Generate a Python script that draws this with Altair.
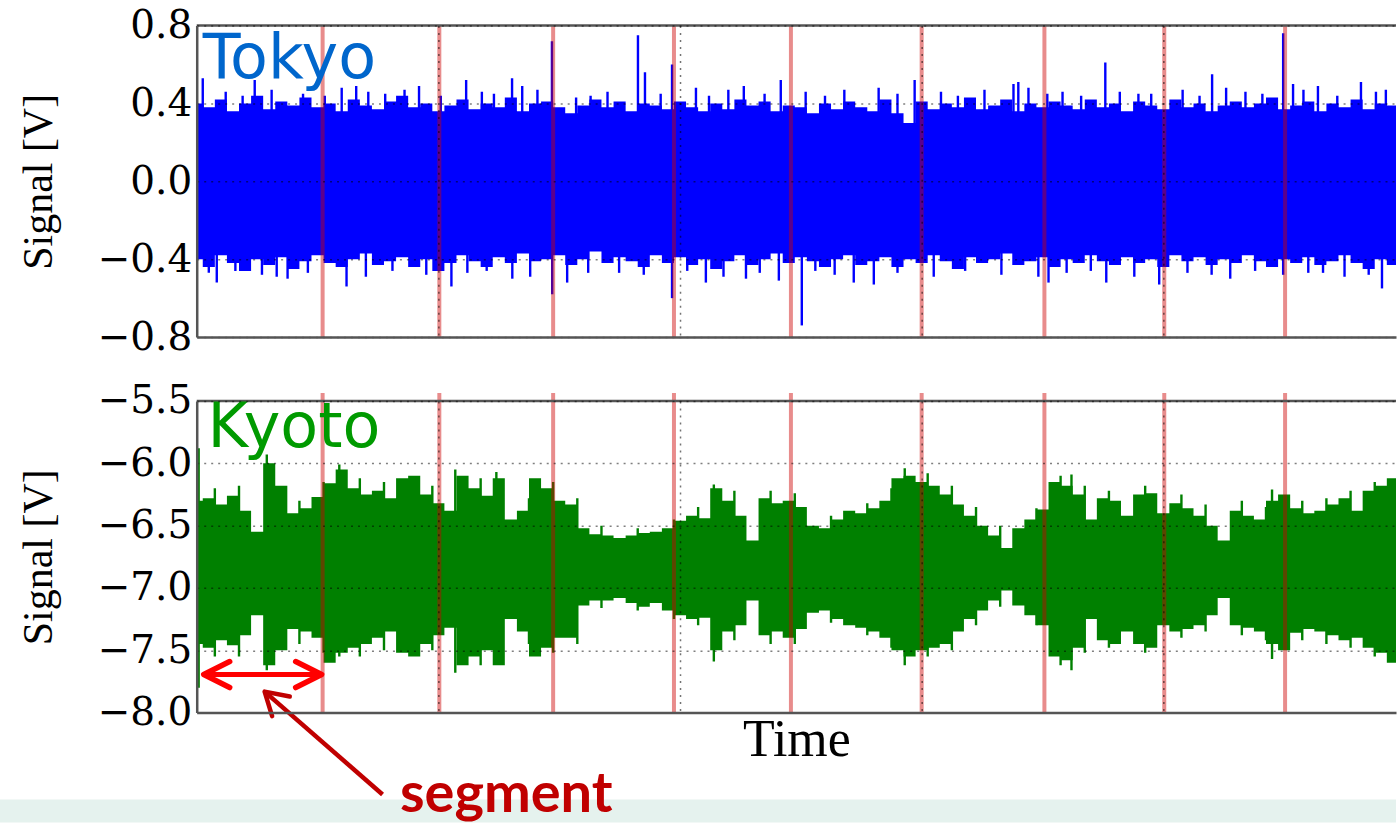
import altair as alt
import pandas as pd

# ---------------- data ----------------
# sample grid along the time axis (gridlines at 1, 2, 3, 4)
t_samples = [round(0.05 * i, 2) for i in range(101)]

tokyo_upper = [
    0.40, 0.38, 0.42, 0.36, 0.40, 0.44, 0.37, 0.41, 0.39, 0.43,
    0.38, 0.40, 0.36, 0.42, 0.39, 0.37, 0.41, 0.44, 0.38, 0.40,
    0.36, 0.39, 0.42, 0.37, 0.40, 0.38, 0.43, 0.36, 0.40, 0.41,
    0.38, 0.35, 0.39, 0.42, 0.38, 0.41, 0.36, 0.40, 0.39, 0.37,
    0.41, 0.38, 0.36, 0.40, 0.37, 0.42, 0.39, 0.41, 0.36, 0.39,
    0.38, 0.35, 0.40, 0.37, 0.41, 0.38, 0.36, 0.42, 0.35, 0.30,
    0.41, 0.37, 0.40, 0.38, 0.43, 0.37, 0.39, 0.42, 0.36, 0.40,
    0.38, 0.41, 0.39, 0.37, 0.42, 0.38, 0.40, 0.36, 0.41, 0.39,
    0.37, 0.42, 0.38, 0.40, 0.36, 0.39, 0.41, 0.38, 0.40, 0.43,
    0.37, 0.39, 0.41, 0.36, 0.40, 0.38, 0.42, 0.37, 0.40, 0.39,
    0.39,
]
tokyo_lower = [
    -0.40, -0.44, -0.38, -0.42, -0.46, -0.40, -0.43, -0.39, -0.45, -0.41,
    -0.38, -0.42, -0.44, -0.40, -0.37, -0.43, -0.41, -0.39, -0.44, -0.40,
    -0.46, -0.42, -0.38, -0.41, -0.44, -0.39, -0.42, -0.37, -0.41, -0.40,
    -0.38, -0.43, -0.40, -0.36, -0.42, -0.39, -0.41, -0.44, -0.38, -0.42,
    -0.39, -0.43, -0.40, -0.45, -0.41, -0.38, -0.43, -0.40, -0.37, -0.42,
    -0.39, -0.41, -0.44, -0.40, -0.38, -0.43, -0.41, -0.39, -0.44, -0.40,
    -0.42, -0.38, -0.41, -0.45, -0.39, -0.42, -0.40, -0.37, -0.43, -0.41,
    -0.39, -0.44, -0.40, -0.42, -0.38, -0.41, -0.43, -0.39, -0.42, -0.40,
    -0.44, -0.38, -0.41, -0.39, -0.43, -0.40, -0.42, -0.38, -0.41, -0.44,
    -0.40, -0.42, -0.39, -0.43, -0.41, -0.38, -0.42, -0.45, -0.40, -0.43,
    -0.41,
]
# isolated thin spikes of the Tokyo trace (time, peak value)
tokyo_spike_t = [
    # tall upward spikes
    0.025, 0.24, 0.60, 0.66, 0.92, 1.115, 1.305, 1.347, 1.47, 1.57,
    1.826, 1.855, 1.967, 2.066, 2.264, 2.417, 2.822, 2.971, 3.38, 3.40,
    3.442, 3.583, 3.76, 3.897, 4.202, 4.26, 4.496, 4.537, 4.64, 4.818, 4.921,
    # tall downward spikes
    0.083, 0.331, 0.376, 0.62, 1.054, 1.306, 1.471, 1.533, 1.748, 1.967,
    2.107, 2.273, 2.409, 2.504, 2.719, 2.802, 3.483, 3.525, 3.764, 3.983,
    4.277, 4.496, 4.661, 4.905,
    # smaller upward spikes
    0.12, 0.19, 0.31, 0.44, 0.53, 0.71, 0.78, 0.86, 1.01, 1.18,
    1.23, 1.41, 1.63, 1.70, 1.92, 2.12, 2.20, 2.35, 2.52, 2.60,
    2.68, 2.90, 3.08, 3.15, 3.26, 3.52, 3.66, 3.82, 3.95, 4.08,
    4.15, 4.34, 4.41, 4.58, 4.72, 4.88,
    # smaller downward spikes
    0.05, 0.16, 0.27, 0.46, 0.70, 0.81, 0.95, 1.12, 1.20, 1.38,
    1.62, 1.85, 2.03, 2.18, 2.33, 2.56, 2.64, 2.90, 3.05, 3.18,
    3.33, 3.60, 3.70, 3.88, 4.10, 4.20, 4.38, 4.60, 4.75, 4.85,
]
tokyo_spike_v = [
    0.53, 0.52, 0.48, 0.49, 0.49, 0.52, 0.53, 0.49, 0.72, 0.43,
    0.75, 0.56, 0.60, 0.48, 0.49, 0.52, 0.48, 0.52, 0.50, 0.51,
    0.48, 0.46, 0.61, 0.45, 0.55, 0.48, 0.76, 0.50, 0.49, 0.51, 0.47,
    -0.52, -0.49, -0.50, -0.54, -0.54, -0.50, -0.58, -0.52, -0.47, -0.60,
    -0.52, -0.50, -0.51, -0.74, -0.52, -0.53, -0.49, -0.52, -0.52, -0.53,
    -0.50, -0.48, -0.47, -0.55,
    0.46, 0.44, 0.47, 0.45, 0.44, 0.46, 0.45, 0.47, 0.44, 0.46,
    0.45, 0.47, 0.44, 0.46, 0.45, 0.44, 0.47, 0.45, 0.46, 0.44,
    0.47, 0.45, 0.46, 0.44, 0.47, 0.45, 0.44, 0.46, 0.45, 0.47,
    0.44, 0.46, 0.45, 0.47, 0.44, 0.46,
    -0.47, -0.46, -0.48, -0.47, -0.49, -0.46, -0.48, -0.47, -0.46, -0.49,
    -0.47, -0.48, -0.46, -0.49, -0.47, -0.46, -0.48, -0.47, -0.49, -0.46,
    -0.48, -0.47, -0.46, -0.49, -0.47, -0.48, -0.46, -0.47, -0.49, -0.48,
]

kyoto_upper = [
    -6.30, -6.28, -6.33, -6.26, -6.38, -6.55, -6.00, -6.18, -6.40, -6.36,
    -6.27, -6.16, -6.05, -6.20, -6.25, -6.22, -6.28, -6.12, -6.10, -6.25,
    -6.32, -6.38, -6.10, -6.20, -6.26, -6.12, -6.45, -6.38, -6.12, -6.20,
    -6.30, -6.33, -6.52, -6.57, -6.58, -6.60, -6.58, -6.56, -6.55, -6.52,
    -6.46, -6.42, -6.44, -6.20, -6.30, -6.42, -6.62, -6.28, -6.32, -6.30,
    -6.35, -6.50, -6.52, -6.45, -6.38, -6.40, -6.36, -6.30, -6.12, -6.10,
    -6.15, -6.18, -6.25, -6.33, -6.42, -6.50, -6.58, -6.68, -6.52, -6.45,
    -6.37, -6.15, -6.18, -6.25, -6.45, -6.28, -6.30, -6.42, -6.25, -6.24,
    -6.40, -6.32, -6.36, -6.42, -6.50, -6.62, -6.38, -6.42, -6.45, -6.30,
    -6.25, -6.36, -6.40, -6.38, -6.33, -6.28, -6.38, -6.22, -6.18, -6.12,
    -6.12,
]
kyoto_lower = [
    -7.45, -7.48, -7.42, -7.46, -7.38, -7.22, -7.62, -7.50, -7.33, -7.35,
    -7.40, -7.60, -7.52, -7.48, -7.45, -7.40, -7.35, -7.52, -7.55, -7.45,
    -7.38, -7.32, -7.62, -7.55, -7.50, -7.62, -7.25, -7.35, -7.55, -7.48,
    -7.40, -7.40, -7.14, -7.10, -7.10, -7.08, -7.12, -7.15, -7.12, -7.18,
    -7.22, -7.25, -7.24, -7.50, -7.35, -7.30, -7.10, -7.38, -7.35, -7.40,
    -7.33, -7.20, -7.18, -7.25, -7.30, -7.32, -7.35, -7.40, -7.50, -7.55,
    -7.50, -7.48, -7.45, -7.35, -7.25, -7.18, -7.10, -7.02, -7.14, -7.22,
    -7.30, -7.55, -7.58, -7.48, -7.25, -7.42, -7.45, -7.35, -7.45, -7.48,
    -7.30, -7.35, -7.33, -7.30, -7.22, -7.08, -7.30, -7.32, -7.35, -7.45,
    -7.50, -7.36, -7.33, -7.35, -7.38, -7.42, -7.40, -7.48, -7.52, -7.60,
    -7.60,
]
# thin excursions of the Kyoto trace (time, top, bottom)
kyoto_spike_t = [
    0.008, 0.29, 0.59, 1.07, 1.24, 2.14, 2.93, 3.62, 4.45,
    0.075, 0.175, 0.425, 0.525, 0.675, 0.775, 0.975, 1.175, 1.375, 1.475,
    1.575, 1.675, 1.825, 1.975, 2.075, 2.225, 2.375, 2.475, 2.625, 2.775,
    2.875, 3.025, 3.125, 3.225, 3.325, 3.475, 3.575, 3.675, 3.775, 3.925,
    4.075, 4.175, 4.325, 4.425, 4.575, 4.675, 4.775, 4.875,
]
kyoto_spike_hi = [
    -5.88, -5.93, -6.01, -6.05, -6.07, -6.17, -6.04, -6.09, -6.21,
    -6.20, -6.18, -6.30, -6.15, -6.12, -6.15, -6.18, -6.12, -6.28, -6.15,
    -6.28, -6.50, -6.52, -6.45, -6.35, -6.22, -6.22, -6.24, -6.42, -6.32,
    -6.20, -6.08, -6.18, -6.35, -6.50, -6.36, -6.10, -6.18, -6.22, -6.18,
    -6.25, -6.33, -6.30, -6.35, -6.30, -6.28, -6.22, -6.15,
]
kyoto_spike_lo = [
    -7.80, -7.66, -7.55, -7.68, -7.60, -7.59, -7.62, -7.66, -7.57,
    -7.55, -7.55, -7.45, -7.52, -7.55, -7.50, -7.50, -7.62, -7.45, -7.52,
    -7.45, -7.16, -7.18, -7.25, -7.30, -7.42, -7.45, -7.45, -7.28, -7.38,
    -7.48, -7.55, -7.50, -7.30, -7.15, -7.30, -7.62, -7.52, -7.48, -7.52,
    -7.40, -7.35, -7.38, -7.42, -7.42, -7.45, -7.48, -7.55,
]

segment_bounds = [0.521, 1.004, 1.475, 1.975, 2.459, 3.0, 3.508, 4.004, 4.504]
grid_times = [1, 2, 3, 4]
tokyo_ticks = [-0.8, -0.4, 0.0, 0.4, 0.8]
kyoto_ticks = [-8.0, -7.5, -7.0, -6.5, -6.0, -5.5]

# ---------------- layout / style ----------------
W, H = 1201, 312
X_DOM = [0, 4.963]
BORDER = "#555555"


def X(field, title):
    return alt.X(
        f"{field}:Q",
        scale=alt.Scale(domain=X_DOM, nice=False, zero=False),
        axis=alt.Axis(
            values=grid_times, labels=False, ticks=False, title=title,
            titleFont="Liberation Serif", titleFontSize=52, titleFontWeight="normal",
            titleColor="black", titlePadding=2,
            domainColor=BORDER, domainWidth=2.5,
            grid=True, gridDash=[2, 5], gridColor="#000000", gridOpacity=0.55, gridWidth=1.5,
            zindex=1,
        ),
    )


def Y(field, domain, ticks):
    return alt.Y(
        f"{field}:Q",
        scale=alt.Scale(domain=domain, nice=False, zero=False),
        axis=alt.Axis(
            values=ticks, format=".1f", ticks=False,
            labelFont="DejaVu Serif", labelFontSize=39, labelColor="black", labelPadding=5,
            title="Signal [V]", titleFont="Liberation Serif", titleFontSize=42,
            titleFontWeight="normal", titleColor="black",
            titleX=-136, titleY=H / 2, titleAngle=270, titleBaseline="bottom", titleAlign="center",
            domainColor=BORDER, domainWidth=2.5,
            grid=True, gridDash=[2, 5], gridColor="#000000", gridOpacity=0.5, gridWidth=1.5,
            zindex=1,
        ),
    )


one = pd.DataFrame({"a": [0]})


def panel(t, up, lo, sp_t, sp_hi, sp_lo, color, domain, ticks, xtitle, name, name_color,
          name_pos, seg_lo, seg_hi, extra):
    env = pd.DataFrame({"t": t, "hi": up, "lo": lo})
    spikes = pd.DataFrame({"t": sp_t, "hi": sp_hi, "lo": sp_lo})
    segs = pd.DataFrame({"t": segment_bounds, "lo": seg_lo, "hi": seg_hi})
    lab = pd.DataFrame({"t": [name_pos[0]], "hi": [name_pos[1]], "label": [name]})

    area = alt.Chart(env).mark_area(color=color, interpolate="step", clip=True, opacity=1).encode(
        x=X("t", xtitle), y=Y("hi", domain, ticks), y2="lo:Q")
    sp = alt.Chart(spikes).mark_rule(color=color, strokeWidth=2.4, clip=True).encode(
        x=X("t", xtitle), y=Y("hi", domain, ticks), y2="lo:Q")
    red = alt.Chart(segs).mark_rule(color="#CC0000", opacity=0.45, strokeWidth=4).encode(
        x=X("t", xtitle), y=Y("lo", domain, ticks), y2="hi:Q")
    top_border = alt.Chart(one).mark_rule(color=BORDER, strokeWidth=2.5).encode(
        x=alt.value(0), x2=alt.value(W), y=alt.value(0))
    label = alt.Chart(lab).mark_text(font="DejaVu Sans", fontSize=62, color=name_color,
                                     align="left", baseline="alphabetic").encode(
        x=X("t", xtitle), y=Y("hi", domain, ticks), text="label:N")
    layers = extra[0] + [area, sp, red, top_border, label] + extra[1]
    return alt.layer(*layers).properties(width=W, height=H)


# Tokyo panel
top = panel(t_samples, tokyo_upper, tokyo_lower,
            tokyo_spike_t, tokyo_spike_v, [0.0] * len(tokyo_spike_t),
            "#0000FF", [-0.8, 0.8], tokyo_ticks, None, "Tokyo", "#0066CC", (0.025, 0.533),
            [-0.8] * len(segment_bounds), [0.8] * len(segment_bounds), ([], []))

# Kyoto panel annotations
KD, KT = [-8.0, -5.5], kyoto_ticks
strip = alt.Chart(one).mark_rect(color="#E5F2EE").encode(
    x=alt.value(-197), x2=alt.value(W), y=alt.value(399), y2=alt.value(422))

seg_arrow = pd.DataFrame({"t": [0.029], "t2": [0.517], "hi": [-7.695]})
arrow_line = alt.Chart(seg_arrow).mark_rule(color="#FF0000", strokeWidth=5).encode(
    x=X("t", "Time"), x2="t2:Q", y=Y("hi", KD, KT))
left_head = alt.Chart(seg_arrow).mark_point(
    shape="M 1 -0.5 L 0 0 L 1 0.5", filled=False, size=2704, strokeWidth=5.5,
    color="#FF0000", opacity=1, strokeCap="round", strokeJoin="round").encode(
    x=X("t", "Time"), y=Y("hi", KD, KT))
right_head = alt.Chart(seg_arrow).mark_point(
    shape="M -1 -0.5 L 0 0 L -1 0.5", filled=False, size=2704, strokeWidth=5.5,
    color="#FF0000", opacity=1, strokeCap="round", strokeJoin="round").encode(
    x=X("t2", "Time"), y=Y("hi", KD, KT))

pointer = pd.DataFrame({"t": [0.281], "hi": [-7.832], "t2": [0.769], "lo": [-8.657]})
pointer_line = alt.Chart(pointer).mark_rule(color="#C00000", strokeWidth=4.5).encode(
    x=X("t", "Time"), x2="t2:Q", y=Y("hi", KD, KT), y2="lo:Q")
pointer_head = alt.Chart(pointer).mark_point(
    shape="M 1 -0.6 L 0 0 L 1 0.6", filled=False, size=1936, strokeWidth=4.5, angle=42,
    color="#C00000", opacity=1, strokeCap="round", strokeJoin="round").encode(
    x=X("t", "Time"), y=Y("hi", KD, KT))

seg_word = pd.DataFrame({"t": [1.281], "hi": [-8.80], "label": ["segment"]})
seg_text = alt.Chart(seg_word).mark_text(
    font="Lato", fontWeight="bold", fontSize=56, color="#C00000",
    align="center", baseline="alphabetic").encode(
    x=X("t", "Time"), y=Y("hi", KD, KT), text="label:N")

bottom = panel(t_samples, kyoto_upper, kyoto_lower,
               kyoto_spike_t, kyoto_spike_hi, kyoto_spike_lo,
               "#008000", KD, KT, "Time", "Kyoto", "#009A00", (0.045, -5.869),
               [-8.0] * len(segment_bounds), [-5.436] * len(segment_bounds),
               ([strip], [arrow_line, left_head, right_head, pointer_line, pointer_head, seg_text]))

chart = alt.vconcat(top, bottom, spacing=64, bounds="flush").properties(
    padding={"left": 0, "right": 0, "top": 6, "bottom": 0},
    background="white",
).configure_view(stroke=None)

chart.save("out.html", embed_options={"renderer": "svg", "actions": False})
